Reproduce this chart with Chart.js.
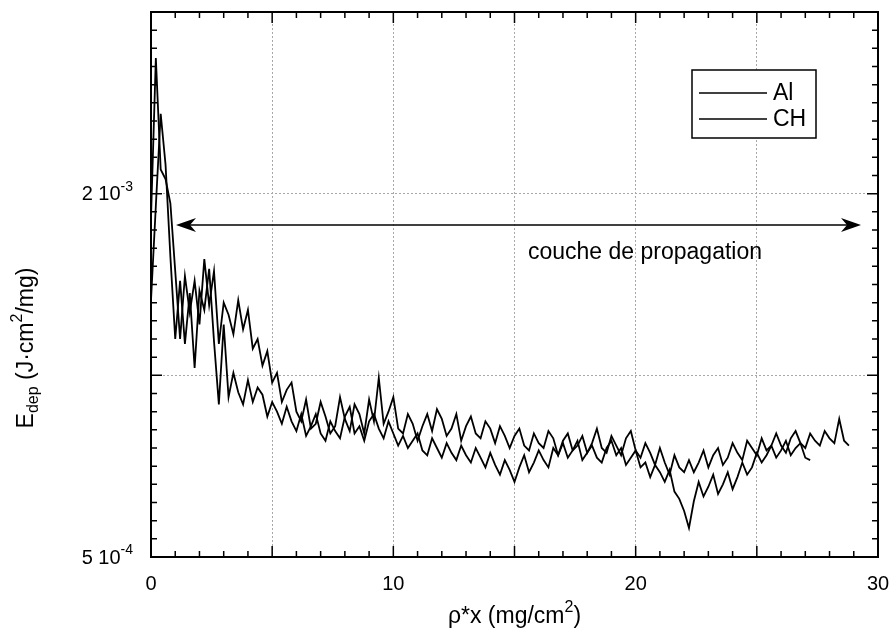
<!DOCTYPE html>
<html>
<head>
<meta charset="utf-8">
<script src="https://cdn.jsdelivr.net/npm/chart.js@4.4.1/dist/chart.umd.min.js"></script>
<style>
  html, body { margin: 0; padding: 0; background: #fff; }
  canvas { display: block; }
</style>
</head>
<body>
<canvas id="chart" width="892" height="639" style="width:892px;height:639px"></canvas>
<script>
// E_dep values in units of 1e-4 J.cm2/mg, sampled every X_STEP mg/cm2
const X_STEP = 0.2;

const AL_E = [
  19.0, 25.6, 21.0, 20.6, 19.6, 16.8,
  14.0, 16.6, 15.1, 16.4, 14.6,
  17.3, 15.4, 16.8, 13.8, 15.5,
  15.0, 14.2, 15.6, 14.4, 15.2,
  13.6, 14.0, 12.9, 13.5, 12.2,
  12.6, 11.4, 11.9, 12.2, 11.0,
  10.6, 11.5, 10.3, 10.5, 11.4,
  10.8, 10.1, 10.4, 11.6, 10.7,
  10.2, 11.3, 10.9, 10.1, 11.5,
  10.6, 12.4, 10.5, 11.0, 11.6,
  10.3, 10.1, 10.9, 10.5, 9.8,
  10.4, 10.9, 10.2, 11.1, 10.7,
  10.0, 10.3, 10.9, 9.8, 10.4,
  10.8, 10.1, 9.9, 10.6, 10.3,
  9.7, 10.4, 10.0, 9.5, 10.0,
  10.3, 9.6, 9.4, 10.1, 9.7,
  9.5, 10.2, 9.9, 9.2, 9.8,
  10.1, 9.4, 9.6, 10.0, 9.3,
  9.7, 10.3, 9.5, 9.3, 10.0,
  9.6, 9.2, 9.9, 10.2, 9.4,
  9.1, 9.7, 9.3, 8.8, 9.5,
  8.9, 8.4, 9.2, 8.7, 8.5,
  9.0, 8.5, 8.9, 9.4, 8.7,
  9.2, 9.5, 8.8, 9.1, 9.7,
  9.3, 9.0, 9.8, 9.5, 9.2,
  9.9, 9.4, 9.6, 10.1, 9.6,
  9.3, 9.9, 10.2, 9.7, 9.5,
  10.1, 9.8, 9.6, 10.2, 9.9,
  9.7, 10.7, 9.8, 9.6
];

const CH_E = [
  15.6, 19.5, 23.3, 21.2, 17.4, 14.0,
  16.4, 13.8, 15.9, 12.8, 16.0,
  15.2, 16.9, 13.9, 11.3, 14.6,
  11.6, 12.6, 11.8, 11.3, 12.3,
  11.4, 12.0, 11.7, 10.8, 11.4,
  11.0, 10.5, 11.2, 10.6, 10.2,
  10.9, 10.0, 10.4, 10.9, 10.1,
  9.8, 10.6, 10.2, 9.9, 10.8,
  11.2, 10.1, 10.4, 9.8, 10.6,
  10.9, 10.3, 9.9, 10.6, 10.1,
  9.6, 10.0, 9.5, 9.8, 10.1,
  9.4, 9.2, 9.9, 9.5, 9.1,
  9.7, 9.3, 9.0, 9.6, 9.2,
  8.9, 9.5, 9.1, 8.7, 9.3,
  8.8, 8.4, 9.0, 8.6, 8.1,
  8.7, 9.2, 8.5, 8.9, 9.4,
  9.0, 8.7, 9.5, 9.2, 9.7,
  9.1, 9.4, 9.8, 9.0, 9.3,
  9.6, 9.1, 8.9, 9.5, 9.8,
  9.2, 9.5, 8.8, 9.1, 9.4,
  8.7, 8.9, 8.3, 8.8, 8.5,
  8.1, 8.6, 7.7, 7.4, 6.9,
  6.2, 7.3, 8.1, 7.5, 7.9,
  8.4, 7.6, 8.0, 8.5, 7.8,
  8.3, 8.9, 8.4, 8.7, 9.3,
  8.9, 9.2, 9.6, 9.1, 9.4,
  9.8, 9.2, 9.5, 9.7, 9.1,
  9.0
];

const SERIES_NAMES = ['Al', 'CH'];
const X_LABELS = [0, 10, 20, 30];
const X_GRID = [0, 5, 10, 15, 20, 25, 30];
const Y_GRID = [5, 12.5, 20, 27.5];
// labelled y ticks: value (1e-4 units), mantissa text, exponent text
const Y_LABELS = [[5, '5 10', '-4'], [20, '2 10', '-3']];

const FONT = '"Liberation Sans", Arial, Helvetica, sans-serif';

function toPoints(arr) {
  return arr.map((v, i) => ({ x: Math.round(i * X_STEP * 10) / 10, y: v }));
}

// draw text made of normal / sup / sub pieces
function richText(ctx, parts, x, y, size, align) {
  const pieces = parts.map(p => {
    const s = p[1] ? Math.round(size * 0.7) : size;
    ctx.font = s + 'px ' + FONT;
    return { t: p[0], s, shift: p[1] === 1 ? -size * 0.4 : p[1] === -1 ? size * 0.3 : 0, w: ctx.measureText(p[0]).width };
  });
  const total = pieces.reduce((a, p) => a + p.w, 0);
  let cx = align === 'right' ? x - total : align === 'center' ? x - total / 2 : x;
  ctx.textBaseline = 'middle';
  ctx.textAlign = 'left';
  pieces.forEach(p => {
    ctx.font = p.s + 'px ' + FONT;
    ctx.fillText(p.t, cx, y + p.shift);
    cx += p.w;
  });
}

function arrowHead(ctx, tipX, y, dir) {
  ctx.beginPath();
  ctx.moveTo(tipX, y);
  ctx.lineTo(tipX - dir * 20, y - 7);
  ctx.lineTo(tipX - dir * 14, y);
  ctx.lineTo(tipX - dir * 20, y + 7);
  ctx.closePath();
  ctx.fill();
}

const decorations = {
  id: 'decorations',
  afterDraw(chart) {
    const { ctx, chartArea: a, scales: { x, y } } = chart;
    ctx.save();
    ctx.strokeStyle = '#000';
    ctx.fillStyle = '#000';

    // inward ticks on all four sides
    ctx.lineWidth = 1.5;
    ctx.beginPath();
    for (let i = 0; i <= 30; i++) {
      const px = x.getPixelForValue(i);
      const len = i % 5 === 0 ? 11 : 6;
      ctx.moveTo(px, a.bottom); ctx.lineTo(px, a.bottom - len);
      ctx.moveTo(px, a.top); ctx.lineTo(px, a.top + len);
    }
    for (let i = 0; i <= 30; i++) {
      const py = y.getPixelForValue(5 + i * 0.75);
      const len = i % 10 === 0 ? 11 : 6;
      ctx.moveTo(a.left, py); ctx.lineTo(a.left + len, py);
      ctx.moveTo(a.right, py); ctx.lineTo(a.right - len, py);
    }
    ctx.stroke();

    ctx.lineWidth = 2;
    ctx.strokeRect(a.left, a.top, a.right - a.left, a.bottom - a.top);

    // tick labels
    ctx.font = '20px ' + FONT;
    ctx.textAlign = 'center';
    ctx.textBaseline = 'middle';
    X_LABELS.forEach(v => ctx.fillText(String(v), x.getPixelForValue(v), 584));
    Y_LABELS.forEach(([v, m, e]) => {
      richText(ctx, [[m, 0], [e, 1]], 133, y.getPixelForValue(v) + 1, 20, 'right');
    });

    // axis titles
    richText(ctx, [['\u03c1*x (mg/cm', 0], ['2', 1], [')', 0]], (a.left + a.right) / 2, 617, 23, 'center');
    ctx.save();
    ctx.translate(27, 348);
    ctx.rotate(-Math.PI / 2);
    richText(ctx, [['E', 0], ['dep', -1], [' (J\u00b7cm', 0], ['2', 1], ['/mg)', 0]], 0, 0, 23, 'center');
    ctx.restore();

    // double arrow + label
    const ay = 225;
    ctx.lineWidth = 1.5;
    ctx.beginPath();
    ctx.moveTo(185, ay); ctx.lineTo(852, ay);
    ctx.stroke();
    arrowHead(ctx, 176, ay, -1);
    arrowHead(ctx, 861, ay, 1);
    ctx.font = '23px ' + FONT;
    ctx.textAlign = 'center';
    ctx.textBaseline = 'middle';
    ctx.fillText('couche de propagation', 645, 253);

    // legend
    const lx = 692, ly = 70, lw = 124, lh = 68;
    ctx.fillStyle = '#fff';
    ctx.fillRect(lx, ly, lw, lh);
    ctx.fillStyle = '#000';
    ctx.lineWidth = 1.5;
    ctx.strokeRect(lx, ly, lw, lh);
    SERIES_NAMES.forEach((name, i) => {
      const ry = 93 + i * 26;
      ctx.beginPath();
      ctx.moveTo(699, ry); ctx.lineTo(767, ry);
      ctx.stroke();
      ctx.font = '23px ' + FONT;
      ctx.textAlign = 'left';
      ctx.textBaseline = 'middle';
      ctx.fillText(name, 773, ry + 1);
    });
    ctx.restore();
  }
};

new Chart(document.getElementById('chart'), {
  type: 'line',
  data: {
    datasets: [
      { label: SERIES_NAMES[0], data: toPoints(AL_E), borderColor: '#000', borderWidth: 1.8, pointRadius: 0, tension: 0, fill: false },
      { label: SERIES_NAMES[1], data: toPoints(CH_E), borderColor: '#000', borderWidth: 1.8, pointRadius: 0, tension: 0, fill: false }
    ]
  },
  options: {
    responsive: false,
    animation: false,
    events: [],
    layout: { padding: { left: 151, right: 14, top: 12, bottom: 82 } },
    plugins: { legend: { display: false }, tooltip: { enabled: false } },
    scales: {
      x: {
        type: 'linear',
        min: 0,
        max: 30,
        afterBuildTicks: s => { s.ticks = X_GRID.map(v => ({ value: v })); },
        ticks: { display: false },
        grid: { color: '#a8a8a8', lineWidth: 1, drawTicks: false },
        border: { display: false, dash: [2, 2] }
      },
      y: {
        type: 'linear',
        min: 5,
        max: 27.5,
        afterBuildTicks: s => { s.ticks = Y_GRID.map(v => ({ value: v })); },
        ticks: { display: false },
        grid: { color: '#a8a8a8', lineWidth: 1, drawTicks: false },
        border: { display: false, dash: [2, 2] }
      }
    }
  },
  plugins: [decorations]
});
</script>
</body>
</html>
